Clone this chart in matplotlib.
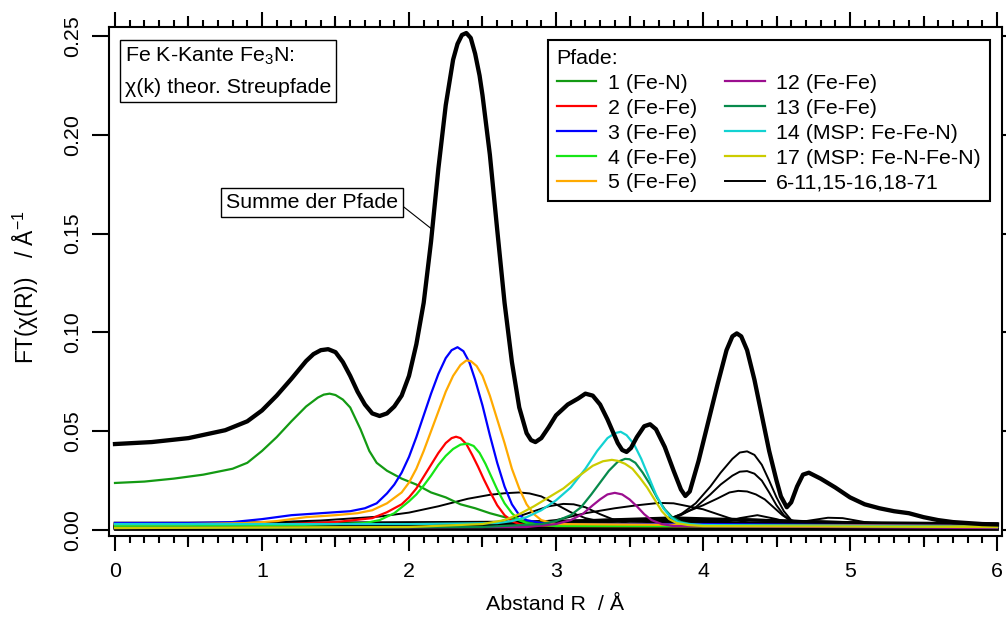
import numpy as np
from matplotlib import pyplot as plt
from matplotlib.ticker import MultipleLocator, FormatStrFormatter

plt.rcParams['font.family'] = ['Liberation Sans', 'DejaVu Sans']
plt.rcParams['font.size'] = 15.4
plt.rcParams['mathtext.fontset'] = 'custom'
plt.rcParams['mathtext.rm'] = 'Liberation Sans'
plt.rcParams['mathtext.it'] = 'Liberation Sans:italic'

# sum of all paths
r_sum = [0.0, 0.25, 0.5, 0.75, 0.9, 1.0, 1.1, 1.2, 1.3, 1.35, 1.4, 1.45, 1.5,
         1.55, 1.6, 1.65, 1.7, 1.75, 1.8, 1.85, 1.9, 1.95, 2.0, 2.05, 2.1,
         2.15, 2.2, 2.25, 2.3, 2.33, 2.36, 2.39, 2.42, 2.45, 2.48, 2.5, 2.55,
         2.6, 2.65, 2.7, 2.75, 2.8, 2.83, 2.86, 2.9, 2.95, 3.0, 3.08, 3.15,
         3.2, 3.25, 3.3, 3.35, 3.42, 3.45, 3.48, 3.51, 3.55, 3.6, 3.64, 3.68,
         3.74, 3.8, 3.85, 3.88, 3.91, 3.97, 4.03, 4.1, 4.16, 4.2, 4.23, 4.26,
         4.3, 4.35, 4.4, 4.45, 4.5, 4.53, 4.57, 4.6, 4.64, 4.68, 4.72, 4.8,
         4.9, 5.0, 5.1, 5.2, 5.3, 5.4, 5.5, 5.6, 5.7, 5.8, 5.9, 6.0]
v_sum = [0.0435, 0.0445, 0.0465, 0.0505, 0.055, 0.0605, 0.068, 0.0765, 0.0855,
         0.089, 0.091, 0.0915, 0.090, 0.085, 0.078, 0.070, 0.0635, 0.059,
         0.0577, 0.059, 0.0625, 0.068, 0.078, 0.094, 0.115, 0.146, 0.183,
         0.215, 0.238, 0.246, 0.2505, 0.2515, 0.249, 0.241, 0.230, 0.220,
         0.190, 0.152, 0.115, 0.085, 0.062, 0.049, 0.0455, 0.0445, 0.0465,
         0.052, 0.058, 0.0635, 0.0665, 0.069, 0.068, 0.0635, 0.056, 0.044,
         0.0405, 0.0395, 0.0415, 0.047, 0.0525, 0.0535, 0.051, 0.042, 0.030,
         0.0205, 0.0172, 0.0195, 0.035, 0.053, 0.074, 0.091, 0.098, 0.0995,
         0.098, 0.091, 0.076, 0.058, 0.040, 0.025, 0.017, 0.0115, 0.014,
         0.022, 0.028, 0.029, 0.026, 0.0215, 0.0165, 0.013, 0.011, 0.0095,
         0.0085, 0.0065, 0.005, 0.004, 0.0035, 0.003, 0.0028]

# single scattering / multiple scattering paths (R, FT)
r_p1 = [0, 0.2, 0.4, 0.6, 0.8, 0.9, 1.0, 1.1, 1.2, 1.3, 1.38, 1.42, 1.46,
        1.5, 1.55, 1.6, 1.67, 1.73, 1.78, 1.85, 1.95, 2.05, 2.15, 2.25, 2.35,
        2.45, 2.55, 2.65, 2.75, 2.85, 3.0, 3.5, 4.0, 5.0, 6.0]
v_p1 = [0.0238, 0.0245, 0.026, 0.028, 0.031, 0.034, 0.040, 0.047, 0.055,
        0.0625, 0.067, 0.0685, 0.069, 0.0683, 0.066, 0.062, 0.051, 0.040,
        0.034, 0.030, 0.026, 0.023, 0.019, 0.0165, 0.013, 0.011, 0.0085,
        0.0065, 0.005, 0.004, 0.003, 0.003, 0.0025, 0.002, 0.0015]

r_p2 = [0, 1.0, 1.5, 1.75, 1.85, 1.95, 2.0, 2.05, 2.1, 2.15, 2.2, 2.25, 2.29,
        2.32, 2.35, 2.39, 2.43, 2.47, 2.51, 2.55, 2.6, 2.65, 2.7, 2.75, 2.8,
        3.0, 6.0]
v_p2 = [0.002, 0.0025, 0.004, 0.006, 0.009, 0.013, 0.0165, 0.021, 0.027,
        0.033, 0.039, 0.044, 0.0465, 0.0472, 0.0465, 0.0435, 0.038, 0.032,
        0.0255, 0.0195, 0.0125, 0.0075, 0.0045, 0.003, 0.0025, 0.002, 0.0015]

r_p3 = [0, 0.5, 0.8, 1.0, 1.2, 1.4, 1.6, 1.7, 1.78, 1.85, 1.9, 1.95, 2.0,
        2.05, 2.1, 2.15, 2.2, 2.25, 2.29, 2.33, 2.37, 2.41, 2.45, 2.5, 2.55,
        2.6, 2.65, 2.7, 2.75, 2.8, 2.9, 3.0, 4.0, 5.0, 6.0]
v_p3 = [0.0035, 0.0035, 0.004, 0.0055, 0.0075, 0.0085, 0.0095, 0.011, 0.0135,
        0.0185, 0.023, 0.029, 0.037, 0.047, 0.058, 0.069, 0.079, 0.087,
        0.091, 0.0925, 0.0905, 0.085, 0.076, 0.063, 0.048, 0.034, 0.022,
        0.013, 0.0075, 0.005, 0.0035, 0.003, 0.003, 0.0025, 0.002]

r_p4 = [0, 1.0, 1.5, 1.7, 1.8, 1.9, 2.0, 2.05, 2.1, 2.15, 2.2, 2.25, 2.3,
        2.35, 2.4, 2.44, 2.48, 2.52, 2.56, 2.6, 2.65, 2.7, 2.75, 2.8, 2.9,
        3.0, 6.0]
v_p4 = [0.002, 0.002, 0.003, 0.0035, 0.005, 0.0085, 0.0145, 0.018, 0.0225,
        0.0275, 0.033, 0.0375, 0.041, 0.0432, 0.0437, 0.0425, 0.039, 0.0335,
        0.027, 0.0205, 0.0135, 0.0085, 0.005, 0.0035, 0.0025, 0.002, 0.0015]

r_p5 = [0, 0.5, 0.9, 1.1, 1.3, 1.5, 1.65, 1.75, 1.85, 1.95, 2.0, 2.05, 2.1,
        2.15, 2.2, 2.25, 2.3, 2.35, 2.39, 2.42, 2.46, 2.5, 2.55, 2.6, 2.65,
        2.7, 2.75, 2.8, 2.85, 2.9, 3.0, 4.0, 6.0]
v_p5 = [0.003, 0.003, 0.0035, 0.0045, 0.0065, 0.0075, 0.0085, 0.010, 0.0135,
        0.019, 0.024, 0.031, 0.040, 0.050, 0.060, 0.070, 0.078, 0.0835,
        0.0858, 0.0855, 0.083, 0.078, 0.068, 0.056, 0.044, 0.031, 0.021,
        0.013, 0.008, 0.005, 0.003, 0.0025, 0.002]

r_p12 = [0, 2.8, 3.0, 3.1, 3.18, 3.25, 3.3, 3.35, 3.4, 3.45, 3.5, 3.55, 3.6,
         3.65, 3.72, 3.8, 6.0]
v_p12 = [0.001, 0.0015, 0.003, 0.005, 0.008, 0.0125, 0.0155, 0.018, 0.0188,
         0.018, 0.0155, 0.012, 0.008, 0.005, 0.003, 0.002, 0.001]

r_p13 = [0, 2.5, 2.9, 3.0, 3.1, 3.17, 3.24, 3.3, 3.36, 3.42, 3.47, 3.5, 3.54,
         3.59, 3.64, 3.69, 3.74, 3.79, 3.85, 3.95, 6.0]
v_p13 = [0.001, 0.0015, 0.003, 0.0045, 0.0075, 0.0115, 0.018, 0.024, 0.030,
         0.0345, 0.036, 0.0358, 0.034, 0.029, 0.023, 0.016, 0.0105, 0.0065,
         0.004, 0.0025, 0.0015]

r_p14 = [0, 1.0, 2.0, 2.6, 2.7, 2.8, 2.9, 3.0, 3.1, 3.2, 3.28, 3.35, 3.4,
         3.44, 3.48, 3.53, 3.58, 3.63, 3.68, 3.73, 3.78, 3.83, 3.9, 4.0, 5.0,
         6.0]
v_p14 = [0.003, 0.003, 0.003, 0.0035, 0.0045, 0.0065, 0.010, 0.015, 0.0215,
         0.031, 0.040, 0.0465, 0.049, 0.0497, 0.048, 0.0435, 0.036, 0.027,
         0.018, 0.011, 0.0065, 0.004, 0.003, 0.0025, 0.002, 0.0015]

r_p17 = [0, 2.0, 2.5, 2.65, 2.75, 2.85, 2.95, 3.05, 3.15, 3.25, 3.32, 3.38,
         3.42, 3.47, 3.52, 3.57, 3.62, 3.67, 3.72, 3.77, 3.82, 3.9, 4.0, 6.0]
v_p17 = [0.001, 0.0015, 0.003, 0.005, 0.008, 0.012, 0.0165, 0.021, 0.027,
         0.0325, 0.0348, 0.0355, 0.035, 0.0335, 0.031, 0.0265, 0.0215, 0.0155,
         0.0095, 0.0055, 0.0035, 0.0025, 0.002, 0.0015]

# remaining paths (6-11, 15-16, 18-71), all drawn in black
r_rest = [
    [0, 0.5, 1.0, 1.4, 1.8, 2.0, 2.2, 2.4, 2.55, 2.65, 2.75, 2.82, 2.9, 3.0,
     3.1, 3.2, 3.35, 3.5, 4.0, 6.0],
    [0, 2.4, 2.6, 2.75, 2.85, 2.95, 3.05, 3.12, 3.2, 3.3, 3.4, 3.5, 3.6, 6.0],
    [0, 2.6, 3.0, 3.2, 3.4, 3.55, 3.7, 3.8, 3.9, 4.0, 4.1, 4.2, 4.35, 4.5,
     6.0],
    [0, 3.5, 3.75, 3.85, 3.95, 4.05, 4.12, 4.2, 4.25, 4.3, 4.35, 4.4, 4.45,
     4.5, 4.55, 4.6, 4.7, 5.0, 6.0],
    [0, 3.5, 3.75, 3.85, 3.95, 4.05, 4.12, 4.2, 4.25, 4.3, 4.35, 4.4, 4.45,
     4.5, 4.55, 4.6, 4.7, 5.0, 6.0],
    [0, 3.5, 3.7, 3.8, 3.9, 4.0, 4.1, 4.18, 4.24, 4.3, 4.36, 4.42, 4.48,
     4.54, 4.6, 4.7, 5.0, 6.0],
    [0, 3.9, 4.1, 4.25, 4.37, 4.5, 4.65, 6.0],
    [0, 4.5, 4.7, 4.85, 4.95, 5.1, 5.3, 6.0],
    [0, 6.0],
    [0, 1.5, 3.0, 4.5, 6.0],
    [0, 1.0, 2.0, 3.0, 4.0, 5.0, 6.0],
    [0, 1.0, 2.0, 2.8, 3.4, 4.0, 4.8, 6.0],
    [0, 1.5, 2.5, 3.2, 3.8, 4.6, 5.4, 6.0],
    [0, 2.0, 3.0, 3.6, 4.2, 5.0, 6.0],
    [0, 1.0, 2.0, 3.0, 4.0, 5.0, 6.0],
    [0, 1.2, 2.4, 3.3, 4.1, 5.2, 6.0],
    [0, 1.5, 2.7, 3.5, 4.3, 5.0, 6.0],
]
v_rest = [
    [0.003, 0.0032, 0.0038, 0.0048, 0.0068, 0.0088, 0.012, 0.0158, 0.0178,
     0.0186, 0.019, 0.0185, 0.017, 0.013, 0.009, 0.006, 0.0035, 0.0025,
     0.002, 0.0015],
    [0.001, 0.002, 0.004, 0.007, 0.0095, 0.012, 0.0132, 0.013, 0.0115, 0.008,
     0.005, 0.003, 0.002, 0.001],
    [0.001, 0.002, 0.005, 0.0085, 0.011, 0.0125, 0.0137, 0.0135, 0.012,
     0.0105, 0.008, 0.0055, 0.003, 0.002, 0.001],
    [0.001, 0.002, 0.005, 0.008, 0.0135, 0.022, 0.029, 0.036, 0.0392, 0.0398,
     0.038, 0.033, 0.025, 0.0165, 0.0095, 0.005, 0.0025, 0.0015, 0.001],
    [0.001, 0.002, 0.0045, 0.0075, 0.0115, 0.018, 0.023, 0.0275, 0.0295,
     0.0298, 0.0285, 0.025, 0.019, 0.0125, 0.0075, 0.0045, 0.0025, 0.0015,
     0.001],
    [0.001, 0.002, 0.004, 0.0065, 0.0095, 0.0125, 0.016, 0.019, 0.0198,
     0.0195, 0.018, 0.0155, 0.0115, 0.0075, 0.0045, 0.0025, 0.0015, 0.001],
    [0.001, 0.0015, 0.003, 0.006, 0.0075, 0.0055, 0.0025, 0.001],
    [0.001, 0.002, 0.0045, 0.0062, 0.006, 0.004, 0.002, 0.001],
    [0.0003, 0.0003],
    [0.0009, 0.001, 0.0013, 0.0012, 0.0009],
    [0.0015, 0.0016, 0.0018, 0.0024, 0.0026, 0.002, 0.0016],
    [0.0021, 0.0021, 0.0024, 0.0034, 0.0045, 0.004, 0.003, 0.0022],
    [0.0026, 0.0027, 0.0032, 0.0048, 0.0062, 0.0045, 0.003, 0.0027],
    [0.0006, 0.0012, 0.003, 0.005, 0.0055, 0.0035, 0.0014],
    [0.0012, 0.0013, 0.0015, 0.002, 0.0022, 0.0017, 0.0013],
    [0.0018, 0.0019, 0.0022, 0.003, 0.0035, 0.0025, 0.0019],
    [0.0035, 0.0036, 0.004, 0.0052, 0.005, 0.0038, 0.0032],
]

paths = [
    (r_p1, v_p1, '#139a13', '1 (Fe-N)'),
    (r_p2, v_p2, '#ff0000', '2 (Fe-Fe)'),
    (r_p3, v_p3, '#0000ff', '3 (Fe-Fe)'),
    (r_p4, v_p4, '#16e616', '4 (Fe-Fe)'),
    (r_p5, v_p5, '#ffaa00', '5 (Fe-Fe)'),
    (r_p12, v_p12, '#9b0e8f', '12 (Fe-Fe)'),
    (r_p13, v_p13, '#078a4c', '13 (Fe-Fe)'),
    (r_p14, v_p14, '#12d2d2', '14 (MSP: Fe-Fe-N)'),
    (r_p17, v_p17, '#cccc00', '17 (MSP: Fe-N-Fe-N)'),
]

fig = plt.figure(figsize=(10.06, 6.17), dpi=100)
ax = fig.add_axes([109 / 1006, 1 - 536 / 617, 893 / 1006, 509 / 617])

handles = []
black = None
for i, (r, v) in enumerate(zip(r_rest, v_rest)):
    ln, = ax.plot(r, v, color='k', lw=1.4 if i < 8 else 2.0, zorder=2)
    if black is None:
        black = ln
for r, v, c, lab in paths:
    ln, = ax.plot(r, v, color=c, lw=1.6, zorder=3, label=lab)
    handles.append(ln)
handles.append(black)
ax.plot(r_sum, v_sum, color='k', lw=3.1, zorder=4)

ax.set_xlim(-0.0408, 6.034)
ax.set_ylim(-0.00304, 0.25455)

ax.xaxis.set_major_locator(MultipleLocator(1))
ax.xaxis.set_minor_locator(MultipleLocator(0.1))
ax.yaxis.set_major_locator(MultipleLocator(0.05))
ax.yaxis.set_major_formatter(FormatStrFormatter('%.2f'))
ax.tick_params(axis='x', which='major', direction='out', length=11, width=1.5,
               top=True, pad=8)
ax.tick_params(axis='x', which='minor', direction='out', length=5, width=1.5,
               top=True)
ax.tick_params(axis='y', which='major', direction='out', length=12, width=1.5,
               right=True, labelrotation=90, pad=7)
for lab in ax.get_yticklabels():
    lab.set_va('center')
for s in ax.spines.values():
    s.set_linewidth(1.5)

# half-unit ticks of medium length
for loc in ['bottom', 'top']:
    sec = ax.secondary_xaxis(loc)
    sec.set_xticks(np.arange(0.5, 6, 1), labels=[''] * 6)
    sec.tick_params(direction='out', length=8, width=1.5)
    sec.spines[loc].set_visible(False)

ax.set_xlabel('Abstand R  / Å', labelpad=10)
ax.set_ylabel('FT(χ(R))   / Å$^{-1}$', fontsize=16.5)
ax.yaxis.set_label_coords(-0.076, 0.489)

fig.text(125 / 1006, 1 - 46 / 617, 'Fe K-Kante Fe$_3$N:\nχ(k) theor. Streupfade',
         ha='left', va='top', linespacing=1.7,
         bbox=dict(boxstyle='square,pad=0.22', fc='white', ec='k', lw=1))

ax.annotate('Summe der Pfade', xy=(2.16, 0.152),
            xytext=(226 / 1006, 1 - 202.5 / 617), textcoords='figure fraction',
            ha='left', va='center', zorder=6,
            bbox=dict(boxstyle='square,pad=0.22', fc='white', ec='k', lw=1),
            arrowprops=dict(arrowstyle='-', color='k', lw=0.8, relpos=(1, 0.5),
                            shrinkA=0, shrinkB=0))

leg = ax.legend(handles, [h.get_label() for h in handles[:-1]] +
                ['6-11,15-16,18-71'],
                ncol=2, loc='upper left', bbox_to_anchor=(548 / 1006, 1 - 40 / 617),
                bbox_transform=fig.transFigure, title='Pfade:', alignment='left',
                fancybox=False, edgecolor='k', framealpha=1, borderpad=0.4,
                handlelength=1.85, handletextpad=0.55, columnspacing=1.3,
                labelspacing=0.28, borderaxespad=0, fontsize=15.4,
                title_fontsize=15.4)
leg.get_frame().set_linewidth(1.5)
leg.set_zorder(7)

fig.savefig('out.png', dpi=100)
